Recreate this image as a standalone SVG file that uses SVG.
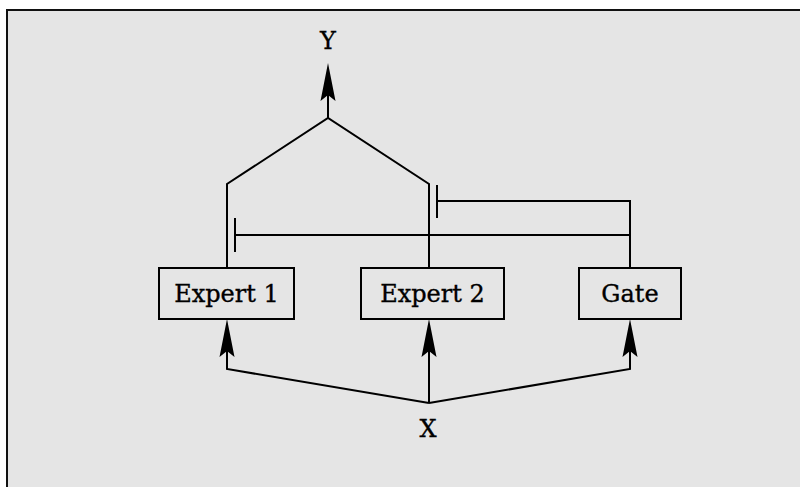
<svg xmlns="http://www.w3.org/2000/svg" width="800" height="487" viewBox="0 0 800 487">
<style>
.ln{fill:none;stroke:#000;stroke-width:2;stroke-linejoin:miter}
.box{fill:none;stroke:#000;stroke-width:2}
.t{font-family:"DejaVu Serif","Liberation Serif",serif;font-size:24px;fill:#000;stroke:#000;stroke-width:0.35;text-anchor:middle}
</style>
<defs>
<marker id="arr" viewBox="-30 -8 42 16" markerWidth="42" markerHeight="16" refX="0" refY="0" markerUnits="userSpaceOnUse" orient="auto">
<path d="M10,0 L-28,-7.5 L-22,0 L-28,7.5 Z" fill="#000"/>
</marker>
</defs>
<rect x="0" y="0" width="800" height="487" fill="#fff"/>
<rect x="7" y="10" width="810" height="500" fill="#e5e5e5" stroke="#111" stroke-width="2"/>
<g id="connectors">
<path class="ln" d="M227,268 V184 L328,118 L429,184 V268"/>
<path class="ln" d="M328,118 V73" marker-end="url(#arr)"/>
<path class="ln" d="M630,268 V201 H437 M437,185 V218"/>
<path class="ln" d="M630,235 H235 M235,218 V252"/>
<path class="ln" d="M429,403 L227,369 V329" marker-end="url(#arr)"/>
<path class="ln" d="M429,403 V329" marker-end="url(#arr)"/>
<path class="ln" d="M429,403 L630,369 V329" marker-end="url(#arr)"/>
</g>
<g id="expert1">
<rect class="box" x="159" y="268" width="135" height="51"/>
<text class="t" x="226.5" y="302">Expert 1</text>
</g>
<g id="expert2">
<rect class="box" x="361" y="268" width="143" height="51"/>
<text class="t" x="432.5" y="302">Expert 2</text>
</g>
<g id="gate">
<rect class="box" x="579" y="268" width="102" height="51"/>
<text class="t" x="630" y="302">Gate</text>
</g>
<g id="y">
<text class="t" x="328" y="49">Y</text>
</g>
<g id="x">
<text class="t" x="428" y="437">X</text>
</g>
</svg>
